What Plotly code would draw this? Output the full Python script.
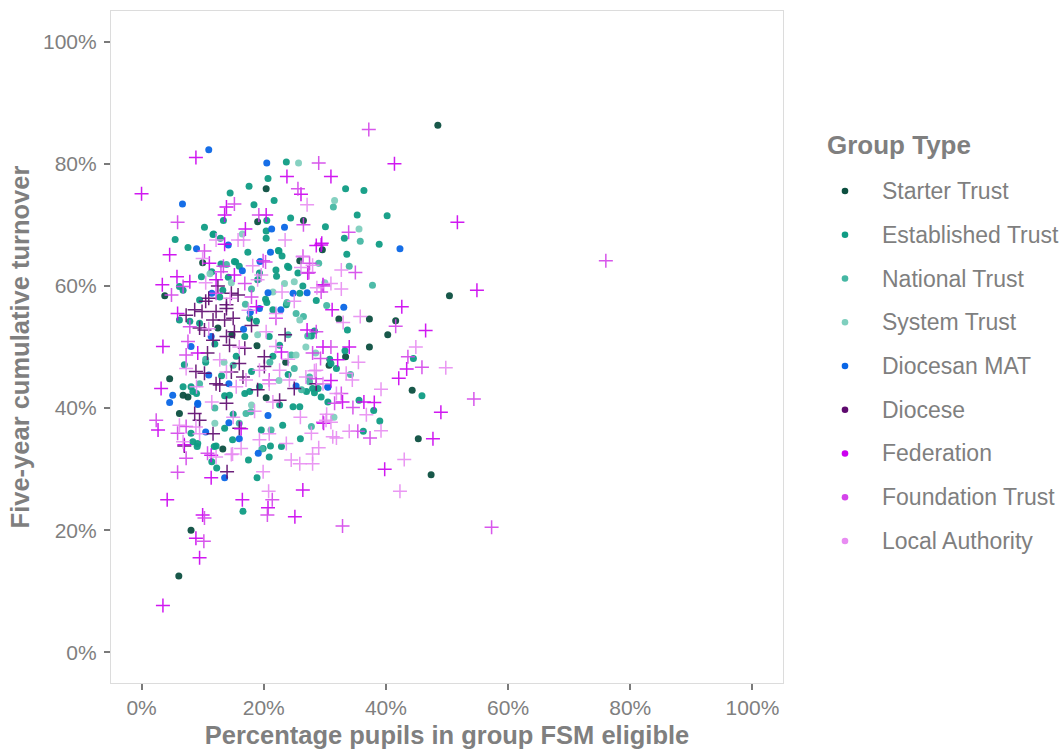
import plotly.graph_objects as go

# ---- data: x = % pupils FSM eligible, y = five-year cumulative turnover (%) ----
starter_x = [48.5, 20.4, 19.0, 26.5, 10.0, 25.9, 29.6, 50.4, 37.3, 41.6, 40.3, 37.3, 44.3, 45.3, 47.4, 32.3,
             33.4, 30.7, 8.1, 6.1, 13.3, 3.8, 4.6, 6.8, 7.6, 6.2, 12.5, 18.9, 20.4, 14.8, 23.6]
starter_y = [86.3, 75.9, 70.5, 70.7, 63.8, 64.1, 65.9, 58.4, 54.6, 54.3, 52.0, 50.0, 42.9, 35.0, 29.1, 54.6,
             48.4, 47.0, 20.0, 12.5, 33.3, 58.4, 44.8, 42.1, 41.8, 39.1, 53.1, 50.2, 41.7, 52.0, 47.5]

established_x = [40.2, 38.9, 44.5, 45.9, 38.0, 39.0, 18.9, 16.6, 21.1, 22.9, 20.9, 8.4, 9.1, 12.2, 11.5, 12.3,
                 23.7, 20.7, 14.5, 17.6, 21.7, 18.4, 13.4, 10.3, 20.5, 24.4, 11.8, 12.9, 20.4, 20.4, 5.5, 7.6,
                 17.4, 22.5, 23.0, 11.5, 15.4, 24.1, 33.4, 36.4, 35.3, 30.1, 33.2, 33.6, 26.4, 28.6, 28.3, 33.7,
                 33.3, 30.8, 31.9, 28.3, 28.9, 29.4, 35.6, 36.3, 9.8, 13.0, 14.2, 11.7, 15.2, 16.0, 19.3, 19.0,
                 22.4, 23.9, 22.0, 25.6, 22.1, 25.9, 23.7, 21.5, 20.3, 20.5, 13.3, 12.8, 6.8, 9.5, 6.2, 9.5,
                 16.9, 17.7, 18.8, 20.9, 22.6, 27.8, 8.4, 9.0, 7.0, 13.1, 13.6, 14.4, 16.9, 17.7, 19.3, 11.9,
                 13.6, 14.9, 19.9, 17.5, 19.6, 23.1, 22.6, 24.8, 25.9, 27.0, 28.0, 30.5, 31.0, 6.2, 6.8, 8.1,
                 8.1, 9.2, 7.9, 10.5, 15.5, 18.0, 24.0, 21.5, 12.0, 26.0, 15.0]
established_y = [71.5, 66.8, 48.1, 42.0, 39.6, 37.9, 28.6, 23.1, 33.8, 33.7, 32.0, 34.5, 33.7, 33.8, 31.2, 30.2,
                 80.3, 77.6, 75.2, 76.3, 74.0, 73.3, 70.7, 69.6, 70.7, 71.1, 68.5, 67.8, 69.0, 67.8, 67.6, 66.3,
                 65.5, 65.7, 64.9, 62.3, 63.9, 63.0, 75.9, 75.6, 71.6, 69.7, 67.8, 65.2, 60.0, 57.6, 52.6, 52.8,
                 49.4, 48.0, 46.5, 42.5, 43.2, 41.8, 41.3, 36.2, 61.5, 63.6, 61.4, 68.4, 64.0, 63.2, 62.1, 61.0,
                 65.8, 63.2, 62.6, 62.1, 61.6, 58.8, 56.9, 56.1, 57.8, 57.3, 59.3, 58.2, 59.3, 57.7, 54.4, 53.9,
                 51.7, 54.7, 54.2, 51.7, 50.3, 51.8, 42.7, 42.4, 47.1, 45.3, 42.0, 42.1, 42.4, 42.7, 43.5, 33.7,
                 36.7, 34.8, 33.4, 31.5, 36.4, 37.2, 40.5, 40.2, 40.2, 42.7, 43.2, 41.0, 47.3, 59.9, 43.5, 43.5,
                 35.9, 34.2, 54.2, 47.5, 48.5, 46.0, 45.5, 48.5, 50.5, 35.0, 39.0]

national_x = [37.8, 31.4, 35.8, 29.0, 34.0, 30.3, 19.7, 13.9, 23.8, 25.3, 27.5, 27.5, 26.2, 34.2, 27.8, 17.1,
              17.9, 21.2, 25.0, 27.2, 26.5, 24.5, 18.0, 10.5, 15.0, 21.0, 12.0, 16.0, 9.5, 24.0, 17.0]
national_y = [60.1, 72.9, 67.3, 63.7, 63.2, 56.8, 33.3, 63.5, 57.3, 55.5, 45.1, 44.3, 43.0, 45.5, 37.0, 39.1,
              39.4, 36.4, 46.5, 51.8, 55.0, 48.7, 59.5, 48.0, 47.0, 47.5, 40.0, 37.5, 44.0, 52.0, 57.0]

system_x = [25.7, 31.6, 35.6, 14.7, 23.4, 25.0, 25.9, 26.9, 25.3, 11.2, 19.0, 13.5, 30.0, 22.5, 18.0, 16.5,
            28.5, 12.0, 21.5, 31.5]
system_y = [80.1, 74.0, 69.3, 60.5, 60.4, 60.7, 54.4, 50.0, 48.7, 62.0, 52.0, 47.5, 60.5, 44.5, 40.5, 68.5,
            49.0, 37.5, 59.0, 38.5]

diocesan_x = [11.0, 20.5, 6.7, 21.3, 23.4, 9.0, 16.5, 42.3, 27.1, 33.1, 30.5, 19.1, 13.6, 14.2, 19.4, 21.1,
              24.8, 22.8, 20.7, 19.3, 17.8, 11.5, 11.4, 8.1, 16.7, 9.2, 11.0, 14.3, 14.3, 10.5, 16.0, 25.3,
              30.5, 20.7, 5.1, 4.6, 9.2]
diocesan_y = [82.3, 80.1, 73.4, 69.3, 69.6, 66.1, 62.5, 66.1, 58.9, 56.5, 43.4, 32.6, 28.6, 66.7, 64.0, 65.5,
              58.8, 56.1, 58.9, 56.3, 55.7, 58.8, 51.7, 50.1, 52.9, 40.8, 45.4, 44.0, 37.6, 36.1, 35.0, 43.6,
              43.5, 38.8, 42.1, 40.9, 40.6]

diocese_x = [7.0, 14.0, 14.7, 15.8, 13.9, 8.7, 9.9, 7.3, 12.2, 13.9, 15.0, 9.5, 10.3, 11.7, 13.6, 11.7,
             13.9, 14.4, 16.9, 20.1, 8.9, 10.3, 12.2, 12.8, 14.7, 16.0, 16.6, 19.0, 20.1, 22.6, 8.7, 9.5,
             11.7, 13.9, 25.0, 28.6, 16.0, 10.5, 12.5, 15.2, 18.0, 10.8, 23.5, 11.0]
diocese_y = [33.8, 29.6, 58.8, 58.5, 56.9, 56.1, 55.8, 55.2, 55.8, 56.3, 54.7, 53.1, 52.8, 54.4, 54.4, 51.1,
             51.7, 50.3, 49.8, 48.4, 46.0, 45.7, 44.0, 43.8, 45.9, 47.3, 45.1, 43.0, 46.8, 41.3, 39.1, 38.0,
             35.8, 40.8, 43.2, 44.0, 36.7, 57.5, 60.0, 52.5, 53.5, 49.0, 52.0, 58.0]

federation_x = [8.9, 0.0, 41.4, 51.7, 54.9, 42.6, 46.5, 43.4, 42.1, 38.1, 49.0, 47.7, 39.8, 26.4, 16.5, 20.7,
                25.1, 4.2, 10.0, 8.9, 9.5, 3.5, 11.4, 13.9, 13.6, 17.0, 23.8, 26.1, 31.0, 29.5, 20.4, 13.6,
                4.6, 11.1, 5.8, 28.6, 29.7, 29.7, 34.0, 32.1, 31.0, 36.4, 32.9, 29.8, 3.4, 5.9, 3.5, 3.2,
                2.7, 7.0, 16.3, 11.4, 27.1, 29.4, 31.2, 22.9, 15.2, 12.2, 7.9, 9.2, 18.8, 26.4, 27.2]
federation_y = [81.0, 75.1, 80.0, 70.4, 59.3, 56.6, 52.7, 46.4, 44.9, 40.9, 39.3, 35.0, 30.0, 26.6, 25.0, 23.7,
                22.2, 25.0, 22.5, 18.7, 15.5, 7.7, 28.6, 72.9, 71.6, 69.3, 77.9, 75.0, 77.9, 67.0, 71.6, 66.8,
                65.1, 63.7, 61.5, 66.6, 60.2, 50.0, 50.0, 47.9, 44.5, 41.0, 41.0, 37.5, 60.2, 55.5, 50.1, 43.2,
                36.4, 34.0, 36.6, 32.3, 52.8, 66.7, 56.1, 49.2, 61.8, 61.0, 60.7, 49.0, 56.6, 64.8, 62.1]

foundation_x = [37.2, 76.0, 41.6, 43.6, 45.9, 54.4, 37.4, 57.3, 21.4, 20.6, 32.9, 10.3, 10.2, 5.9, 10.8, 15.2,
                5.9, 25.6, 29.0, 33.9, 19.2, 26.5, 10.3, 19.9, 13.4, 27.4, 35.0, 29.4, 31.0, 29.3, 28.6, 32.7,
                31.6, 34.6, 35.4, 4.9, 7.9, 7.6, 2.4, 5.9, 7.3, 20.9, 29.7, 7.3, 28.6, 29.8, 22.0, 28.0,
                16.9, 13.0, 12.2, 6.8, 7.3, 18.0, 20.3, 27.5]
foundation_y = [85.6, 64.1, 53.4, 48.4, 46.7, 41.5, 35.1, 20.5, 25.0, 22.5, 20.7, 22.0, 18.2, 29.5, 32.6, 73.4,
                70.4, 75.9, 80.1, 68.8, 71.6, 70.0, 65.7, 64.1, 63.2, 62.2, 62.2, 59.0, 50.0, 48.1, 44.8, 42.4,
                40.8, 40.1, 36.2, 58.5, 53.3, 50.9, 38.0, 35.9, 37.0, 44.6, 37.7, 31.8, 52.5, 60.0, 54.7, 49.0,
                60.4, 62.3, 58.8, 59.9, 48.7, 58.2, 63.9, 63.7]

local_x = [44.9, 49.8, 39.2, 39.2, 43.0, 42.3, 25.9, 28.0, 28.0, 19.9, 20.8, 14.7, 16.3, 27.1, 12.2, 16.7,
           26.4, 28.0, 26.1, 32.7, 31.0, 28.7, 32.7, 35.8, 28.3, 33.5, 34.5, 36.8, 30.3, 31.0, 34.0, 27.8,
           31.9, 18.2, 15.8, 19.6, 19.0, 20.4, 22.0, 7.3, 12.8, 13.9, 15.5, 17.1, 19.3, 20.9, 22.6, 24.2,
           26.9, 28.6, 29.7, 31.9, 30.2, 31.3, 29.0, 24.5, 23.7, 20.9, 19.3, 14.9, 12.2, 8.9, 6.2, 6.8,
           9.5, 10.5, 14.5, 17.5, 23.0, 25.0, 11.0, 16.0, 24.0, 9.0, 21.5, 18.5, 26.0, 33.0, 35.5, 11.5,
           15.0, 22.0, 10.0, 23.5]
local_y = [50.0, 46.6, 43.1, 36.3, 31.6, 26.4, 30.9, 32.5, 30.9, 29.6, 26.4, 32.4, 33.4, 73.3, 67.5, 67.5,
           64.8, 63.4, 63.0, 62.6, 60.4, 59.7, 59.5, 55.0, 46.1, 45.7, 44.6, 38.9, 39.0, 37.7, 36.2, 35.9,
           35.1, 63.3, 67.5, 61.8, 61.0, 52.5, 50.1, 46.5, 47.9, 45.9, 43.5, 44.6, 46.2, 44.0, 46.2, 44.6,
           45.1, 46.2, 44.0, 42.4, 38.0, 35.3, 33.5, 31.5, 34.2, 35.8, 34.8, 32.5, 32.0, 36.9, 37.2, 34.5,
           35.8, 60.5, 58.0, 56.0, 59.0, 57.5, 53.0, 50.0, 48.0, 43.5, 41.0, 39.5, 38.5, 54.0, 47.5, 41.0,
           38.5, 55.5, 64.5, 67.5]

tick_vals = [0, 20, 40, 60, 80, 100]
tick_text = ["0%", "20%", "40%", "60%", "80%", "100%"]

# ---- group styling: trusts as dots, the rest as thin crosses ----
groups = [
    ("Starter Trust", starter_x, starter_y, "#0c4f40", "circle"),
    ("Established Trust", established_x, established_y, "#0f9c84", "circle"),
    ("National Trust", national_x, national_y, "#45b7a3", "circle"),
    ("System Trust", system_x, system_y, "#7fcfbe", "circle"),
    ("Diocesan MAT", diocesan_x, diocesan_y, "#0a66e6", "circle"),
    ("Diocese", diocese_x, diocese_y, "#5e0a6e", "cross"),
    ("Federation", federation_x, federation_y, "#cc00f0", "cross"),
    ("Foundation Trust", foundation_x, foundation_y, "#d444ea", "cross"),
    ("Local Authority", local_x, local_y, "#e88cf2", "cross"),
]

GREY = "#7f7f7f"
FONT = "Liberation Sans, Arial, sans-serif"

# page geometry (px) of the panel, used to place the legend block to its right
W, H = 1062, 749
ML, MR, MT, MB = 111, 279, 11, 66
PW, PH = W - ML - MR, H - MT - MB


def px_x(px):
    return (px - ML) / PW


def px_y(py):
    return (H - MB - py) / PH


fig = go.Figure()

for name, xs, ys, col, shape in groups:
    if shape == "circle":
        marker = dict(symbol="circle", size=7, color=col, opacity=0.95, line=dict(width=0))
    else:
        marker = dict(symbol="cross-thin", size=10, color=col, opacity=0.9,
                      line=dict(width=1.5, color=col))
    fig.add_trace(go.Scatter(x=xs, y=ys, mode="markers", marker=marker, name=name,
                             showlegend=False, hoverinfo="x+y+name"))

# legend block: title, then one dot key + label per group
legend_shapes = []
legend_notes = [dict(
    text="<b>Group Type</b>", x=px_x(825), y=px_y(145),
    xref="paper", yref="paper", xanchor="left", yanchor="middle", showarrow=False,
    font=dict(family=FONT, size=26, color=GREY),
)]
for i, (name, xs, ys, col, shape) in enumerate(groups):
    cy = 191 + 43.75 * i
    legend_shapes.append(dict(
        type="circle", xref="paper", yref="paper",
        x0=px_x(845 - 3.3), x1=px_x(845 + 3.3), y0=px_y(cy + 3.3), y1=px_y(cy - 3.3),
        fillcolor=col, line=dict(width=0),
    ))
    legend_notes.append(dict(
        text=name, x=px_x(880), y=px_y(cy), xref="paper", yref="paper",
        xanchor="left", yanchor="middle", showarrow=False,
        font=dict(family=FONT, size=23, color=GREY),
    ))

axis_common = dict(
    range=[-5, 105], tickvals=tick_vals, ticktext=tick_text,
    showgrid=False, zeroline=False, automargin=False,
    showline=True, mirror=True, linecolor="#dcdcdc", linewidth=1.2,
    ticks="outside", ticklen=6, tickwidth=1.5, tickcolor="#7a7a7a",
    tickfont=dict(family=FONT, size=21, color=GREY),
)

fig.update_layout(
    width=W, height=H,
    margin=dict(l=ML, r=MR, t=MT, b=MB),
    paper_bgcolor="white", plot_bgcolor="white",
    font=dict(family=FONT, color=GREY),
    xaxis=dict(**axis_common,
               title=dict(text="<b>Percentage pupils in group FSM eligible</b>",
                          font=dict(family=FONT, size=25.5, color=GREY), standoff=10)),
    yaxis=dict(**axis_common, ticklabelstandoff=3,
               title=dict(text="<b>Five-year cumulative turnover</b>",
                          font=dict(family=FONT, size=25.5, color=GREY), standoff=6)),
    shapes=legend_shapes,
    annotations=legend_notes,
    showlegend=False,
)

fig.write_html("out.html")
